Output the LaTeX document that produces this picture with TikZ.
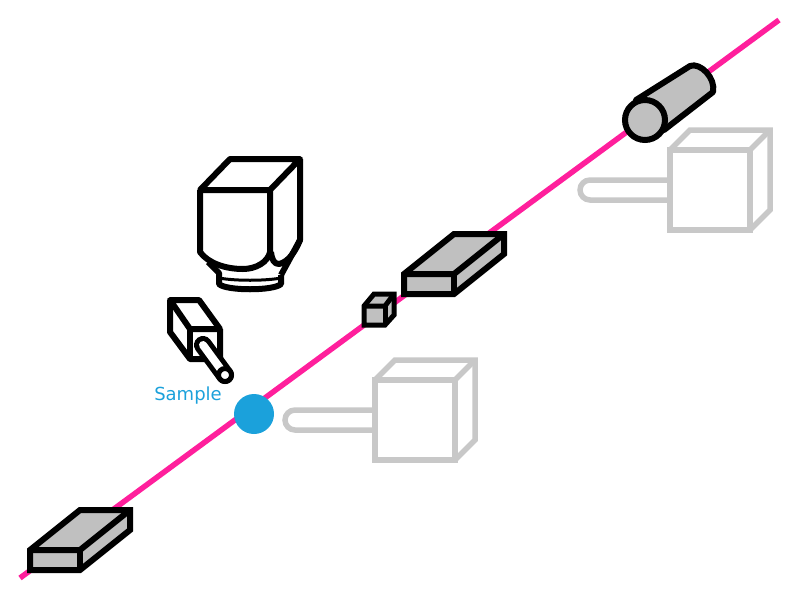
\documentclass[tikz,border=0pt]{standalone}
\usepackage{fontspec}
\setsansfont{DejaVu Sans}
\usepackage{xcolor}
\definecolor{beamcol}{HTML}{FF1F9C}
\definecolor{samplecol}{HTML}{1BA1DB}
\definecolor{bodycol}{HTML}{C0C0C0}
\definecolor{ghostcol}{HTML}{C8C8C8}
\tikzset{
	solidpart/.style={draw=black, line width=6pt, line join=miter, fill=bodycol},
	blackline/.style={draw=black, line width=6pt, line join=round},
	ghostline/.style={draw=ghostcol, line width=5.5pt, line join=miter},
	% slab: front corner at the origin of the scope, 50 wide and 20 high
	slab/.pic={
		\path[solidpart] (0,0) -- (50,-40) -- (100,-40) -- (100,-20) -- (50,20) -- (0,20) -- cycle;
		\draw[blackline] (0,0) -- (50,0) -- (100,-40);
		\draw[blackline] (50,0) -- (50,20);
	},
	% detector seen through: front corner at the origin, with its arm
	ghostbox/.pic={
		\draw[ghostline] (0,0) rectangle (80,80);
		\draw[ghostline] (0,0) -- (20,-20) -- (100,-20) -- (100,60) -- (80,80);
		\draw[ghostline] (80,0) -- (100,-20);
		\draw[ghostline] (0,30) -- (-80,30) arc[start angle=270, end angle=90, radius=10] -- (0,50);
	}
}
\begin{document}
\begin{tikzpicture}[x=1pt, y=-1pt]
	\useasboundingbox (0,0) rectangle (800,600);

	% beam
	\draw[line width=5.5pt, beamcol] (20,578) -- (779,20);

	% ghost detectors
	\pic at (670,150) {ghostbox};
	\pic at (375,380) {ghostbox};

	% sample on the beam
	\node[circle, fill=samplecol, minimum size=40pt, inner sep=0pt] (sample) at (254,414) {};
	\node[font=\sffamily\fontsize{18}{20}\selectfont, text=samplecol] (samplelabel) at (188,396) {Sample};

	% slabs
	\pic at (30,550) {slab};
	\pic at (404,274) {slab};

	% small cube
	\path[solidpart, line width=5pt] (364,306) -- (374,294) -- (394,294) -- (394,315) -- (385,325) -- (364,325) -- cycle;
	\draw[blackline, line width=5pt] (364,306) -- (385,306) -- (394,294);
	\draw[blackline, line width=5pt] (385,306) -- (385,325);

	% cylinder at the far end
	\path[solidpart, line join=round] (636,100) -- (690,66) .. controls (700,62) and (716,78) .. (713,92) -- (664,130) -- cycle;
	\draw[solidpart] (645,120) circle (20);

	% large camera
	\draw[blackline] (200,190) -- (230,159) -- (300,159) -- (270,190) -- cycle;
	\draw[blackline] (200,190) -- (200,252) .. controls (208,263) and (225,269) .. (243,269) .. controls (256,269) and (268,262) .. (270,252) -- (270,190);
	\draw[blackline] (300,159) -- (300,240) -- (281,275);
	\draw[blackline] (300,240) .. controls (296,250) and (289,262) .. (279,264) .. controls (274,264) and (272,260) .. (271,252);
	\draw[blackline] (208,262) -- (219,273) -- (219,284) .. controls (226,291) and (274,291) .. (281,284) -- (281,275);
	\draw[blackline, line width=3pt] (219,278) .. controls (235,281) and (265,281) .. (281,278);

	% small camera with its arm
	\draw[blackline] (170,300) -- (199,300) -- (220,329) -- (190,329) -- cycle;
	\draw[blackline] (170,300) -- (170,332) -- (190,359) -- (220,359) -- (220,329);
	\draw[blackline] (190,329) -- (190,359);
	\draw[line width=18pt, line cap=round, black] (203,345) -- (225,375);
	\draw[line width=8pt, line cap=round, white] (203,345) -- (225,375);
	\draw[line width=5pt, black, fill=white] (225,375) circle (6.5);
\end{tikzpicture}
\end{document}
